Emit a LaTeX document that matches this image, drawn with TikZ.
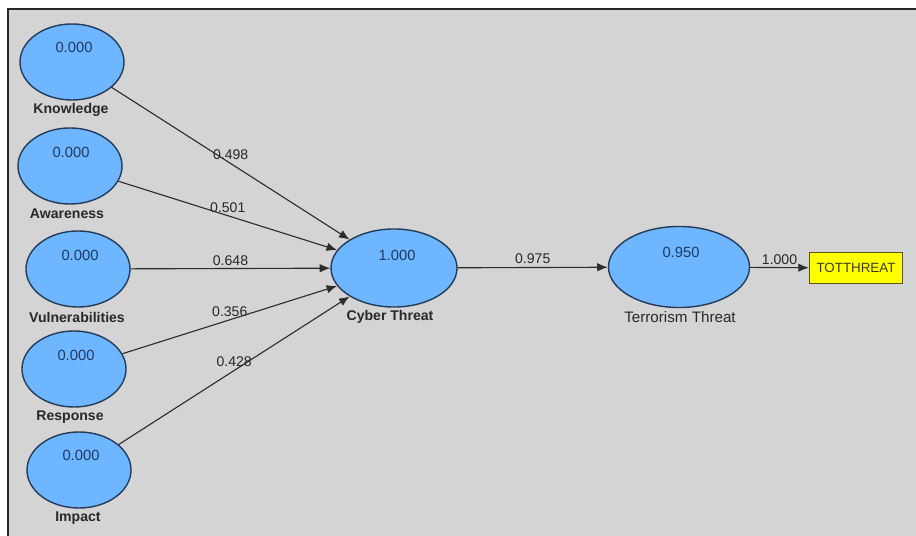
\documentclass[tikz,border=0pt]{standalone}
\usepackage{fontspec}
\setmainfont{Liberation Sans}
\usetikzlibrary{shapes.geometric,arrows.meta}

\definecolor{panel}{RGB}{212,212,212}
\definecolor{latfill}{RGB}{110,182,255}
\definecolor{latedge}{RGB}{36,60,90}
\definecolor{valtext}{RGB}{30,58,100}
\definecolor{nametext}{RGB}{40,40,40}
\definecolor{pathline}{RGB}{45,45,45}
\definecolor{itemfill}{RGB}{255,255,0}
\definecolor{itemedge}{RGB}{85,85,30}

\tikzset{
  latent/.style={ellipse, draw=latedge, line width=1pt, fill=latfill,
    inner sep=0pt, minimum width=2.6cm, minimum height=1.9cm},
  val/.style={text=valtext, font=\fontsize{10.5}{12}\selectfont, inner sep=0pt},
  vname/.style={text=nametext, font=\fontsize{10}{12}\selectfont\bfseries, inner sep=0pt},
  path arrow/.style={draw=pathline, line width=0.8pt, -{Latex[length=7.5pt,width=6pt]}},
  elab/.style={text=nametext, font=\fontsize{10}{12}\selectfont, inner sep=0pt, above=2pt},
  indicator/.style={rectangle, draw=itemedge, line width=0.9pt, fill=itemfill,
    inner sep=0pt, minimum width=2.325cm, minimum height=0.775cm,
    text=itemedge!70!black, font=\fontsize{9.5}{11}\selectfont}
}

\begin{document}
\begin{tikzpicture}[x=0.025cm,y=-0.025cm]
  \useasboundingbox (0,0) rectangle (916,536);
  % canvas panel with its top and left frame lines
  \fill[panel] (8,9) rectangle (916,536);
  \draw[line width=1.4pt, black!85] (8,536) -- (8,9) -- (916,9);

  % exogenous constructs
  \node[latent] (know) at (72,62)  {};
  \node[latent] (aware) at (70,166) {};
  \node[latent] (vuln) at (78,269) {};
  \node[latent] (resp) at (74,369) {};
  \node[latent] (imp) at (79,470) {};

  % endogenous constructs
  \node[latent, minimum width=3.15cm, minimum height=1.95cm] (cyber) at (394,268) {};
  \node[latent, minimum width=3.525cm, minimum height=2.025cm] (terror) at (679,267) {};

  % indicator
  \node[indicator] (tot) at (856,268) {TOTTHREAT};

  % R-square values
  \node[val] (know-v) at (74,47) {0.000};
  \node[val] (aware-v) at (71,152) {0.000};
  \node[val] (vuln-v) at (80,255) {0.000};
  \node[val] (resp-v) at (76,355) {0.000};
  \node[val] (imp-v) at (81,455) {0.000};
  \node[val] (cyber-v) at (397,255) {1.000};
  \node[val] (terror-v) at (681,252) {0.950};

  % construct names
  \node[vname] (know-l) at (71,110) {Knowledge};
  \node[vname] (aware-l) at (67,214) {Awareness};
  \node[vname] (vuln-l) at (77,317) {Vulnerabilities};
  \node[vname] (resp-l) at (70,417) {Response};
  \node[vname] (imp-l) at (78,518) {Impact};
  \node[vname] (cyber-l) at (390,317) {Cyber Threat};
  \node[vname, font=\fontsize{10.8}{13}\selectfont] (terror-l) at (680,317) {Terrorism Threat};

  % path coefficients
  \draw[path arrow] (know) -- node[elab] {0.498} (cyber);
  \draw[path arrow] (aware) -- node[elab] {0.501} (cyber);
  \draw[path arrow] (vuln) -- node[elab] {0.648} (cyber);
  \draw[path arrow] (resp) -- node[elab] {0.356} (cyber);
  \draw[path arrow] (imp) -- node[elab] {0.428} (cyber);
  \draw[path arrow] (cyber) -- node[elab] {0.975} (terror);
  \draw[path arrow] (terror) -- node[elab] {1.000} (tot);
\end{tikzpicture}
\end{document}
